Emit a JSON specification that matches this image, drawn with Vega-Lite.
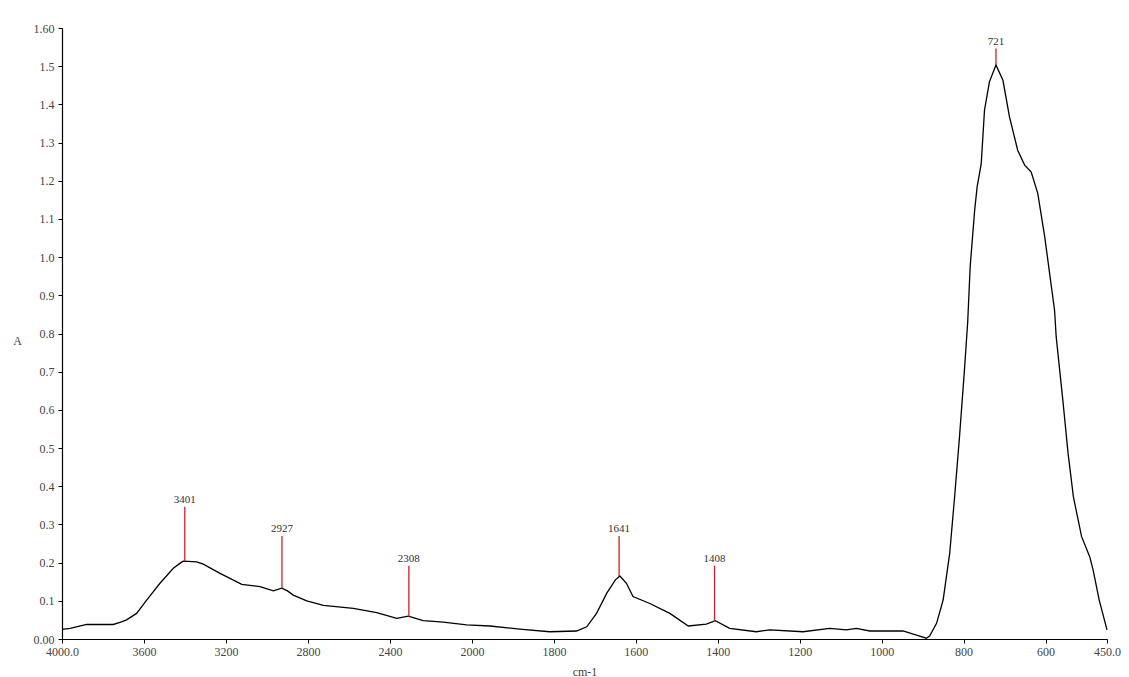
{
  "$schema": "https://vega.github.io/schema/vega-lite/v6.json",
  "description": "IR absorbance spectrum with marked peaks.",
  "width": 1045,
  "height": 611,
  "autosize": "none",
  "padding": {"left": 62, "top": 28, "right": 22, "bottom": 38},
  "background": "white",
  "config": {
    "view": {"stroke": null},
    "font": "Liberation Serif",
    "axis": {
      "grid": false,
      "domainColor": "#000000",
      "domainWidth": 1.2,
      "tickColor": "#000000",
      "tickSize": 4,
      "labelFont": "Liberation Serif",
      "labelFontSize": 12,
      "labelColor": "#444444",
      "titleFont": "Liberation Serif",
      "titleFontSize": 12,
      "titleFontWeight": "normal",
      "titleColor": "#444444"
    },
    "axisY": {
      "title": "A",
      "titleAngle": 0,
      "titleX": -45,
      "titleY": 312,
      "titleAlign": "center",
      "titleBaseline": "middle",
      "labelPadding": 4,
      "values": [0, 0.1, 0.2, 0.3, 0.4, 0.5, 0.6, 0.7, 0.8, 0.9, 1.0, 1.1, 1.2, 1.3, 1.4, 1.5, 1.6],
      "labelExpr": "datum.value < 0.001 ? '0.00' : datum.value > 1.59 ? '1.60' : format(datum.value, '.1f')",
      "labelFlush": false,
      "labelOverlap": false
    }
  },
  "datasets": {
    "spectrum": [
      {"wn": 4000, "A": 0.025}, {"wn": 3960, "A": 0.028}, {"wn": 3920, "A": 0.033},
      {"wn": 3880, "A": 0.038}, {"wn": 3750, "A": 0.038}, {"wn": 3710, "A": 0.045},
      {"wn": 3685, "A": 0.05}, {"wn": 3636, "A": 0.067}, {"wn": 3587, "A": 0.102},
      {"wn": 3522, "A": 0.146}, {"wn": 3457, "A": 0.185}, {"wn": 3420, "A": 0.2},
      {"wn": 3408, "A": 0.204}, {"wn": 3343, "A": 0.202}, {"wn": 3311, "A": 0.196},
      {"wn": 3229, "A": 0.172}, {"wn": 3123, "A": 0.143}, {"wn": 3034, "A": 0.137},
      {"wn": 2969, "A": 0.126}, {"wn": 2928, "A": 0.133}, {"wn": 2900, "A": 0.126},
      {"wn": 2872, "A": 0.115}, {"wn": 2806, "A": 0.1}, {"wn": 2725, "A": 0.088},
      {"wn": 2579, "A": 0.08}, {"wn": 2465, "A": 0.069}, {"wn": 2367, "A": 0.054},
      {"wn": 2311, "A": 0.06}, {"wn": 2238, "A": 0.048}, {"wn": 2140, "A": 0.044},
      {"wn": 2026, "A": 0.037}, {"wn": 1956, "A": 0.034}, {"wn": 1883, "A": 0.026},
      {"wn": 1810, "A": 0.019}, {"wn": 1745, "A": 0.021}, {"wn": 1720, "A": 0.032},
      {"wn": 1696, "A": 0.067}, {"wn": 1671, "A": 0.12}, {"wn": 1650, "A": 0.155},
      {"wn": 1639, "A": 0.165}, {"wn": 1623, "A": 0.146}, {"wn": 1607, "A": 0.111},
      {"wn": 1566, "A": 0.093}, {"wn": 1517, "A": 0.067}, {"wn": 1472, "A": 0.034},
      {"wn": 1428, "A": 0.039}, {"wn": 1406, "A": 0.048}, {"wn": 1371, "A": 0.028},
      {"wn": 1306, "A": 0.019}, {"wn": 1273, "A": 0.024}, {"wn": 1192, "A": 0.019},
      {"wn": 1127, "A": 0.028}, {"wn": 1086, "A": 0.024}, {"wn": 1062, "A": 0.028},
      {"wn": 1029, "A": 0.021}, {"wn": 948, "A": 0.021}, {"wn": 915, "A": 0.01},
      {"wn": 891, "A": 0.002}, {"wn": 883, "A": 0.008}, {"wn": 866, "A": 0.041},
      {"wn": 850, "A": 0.102}, {"wn": 834, "A": 0.224}, {"wn": 822, "A": 0.372},
      {"wn": 810, "A": 0.53}, {"wn": 798, "A": 0.704}, {"wn": 790, "A": 0.83},
      {"wn": 784, "A": 0.975}, {"wn": 773, "A": 1.123}, {"wn": 767, "A": 1.184},
      {"wn": 757, "A": 1.245}, {"wn": 749, "A": 1.385}, {"wn": 737, "A": 1.459},
      {"wn": 721, "A": 1.503}, {"wn": 704, "A": 1.463}, {"wn": 688, "A": 1.367},
      {"wn": 668, "A": 1.28}, {"wn": 651, "A": 1.241}, {"wn": 635, "A": 1.223},
      {"wn": 619, "A": 1.167}, {"wn": 602, "A": 1.053}, {"wn": 590, "A": 0.957},
      {"wn": 578, "A": 0.861}, {"wn": 574, "A": 0.791}, {"wn": 557, "A": 0.617},
      {"wn": 545, "A": 0.486}, {"wn": 532, "A": 0.372}, {"wn": 512, "A": 0.268},
      {"wn": 492, "A": 0.215}, {"wn": 484, "A": 0.181}, {"wn": 469, "A": 0.102},
      {"wn": 450, "A": 0.024}
    ],
    "peaks": [
      {"wn": 3401, "base": 0.203, "top": 0.346, "label": "3401"},
      {"wn": 2927, "base": 0.133, "top": 0.27, "label": "2927"},
      {"wn": 2308, "base": 0.058, "top": 0.192, "label": "2308"},
      {"wn": 1641, "base": 0.165, "top": 0.27, "label": "1641"},
      {"wn": 1408, "base": 0.048, "top": 0.192, "label": "1408"},
      {"wn": 721, "base": 1.503, "top": 1.546, "label": "721"}
    ]
  },
  "encoding": {
    "x": {
      "field": "wn",
      "type": "quantitative",
      "scale": {"type": "linear", "domain": [4000, 2000, 450], "range": [0, 410, 1045], "nice": false, "zero": false},
      "axis": {
        "title": "cm-1",
        "titleY": 32,
        "titleBaseline": "middle",
        "labelPadding": 3,
        "values": [4000, 3600, 3200, 2800, 2400, 2000, 1800, 1600, 1400, 1200, 1000, 800, 600, 450],
        "labelExpr": "datum.value == 4000 || datum.value == 450 ? format(datum.value, '.1f') : format(datum.value, 'd')",
        "labelFlush": false,
        "labelOverlap": false
      }
    }
  },
  "layer": [
    {
      "data": {"name": "spectrum"},
      "mark": {"type": "line", "color": "#000000", "strokeWidth": 1.3, "interpolate": "linear"},
      "encoding": {
        "y": {
          "field": "A",
          "type": "quantitative",
          "title": "A",
          "scale": {"domain": [0, 1.6], "nice": false, "zero": false}
        }
      }
    },
    {
      "data": {"name": "peaks"},
      "mark": {"type": "rule", "color": "#cc1f2e", "strokeWidth": 1.3},
      "encoding": {
        "y": {"field": "base", "type": "quantitative", "title": "A"},
        "y2": {"field": "top"}
      }
    },
    {
      "data": {"name": "peaks"},
      "mark": {"type": "text", "baseline": "bottom", "dy": -2, "fontSize": 11, "color": "#333333", "font": "Liberation Serif"},
      "encoding": {
        "y": {"field": "top", "type": "quantitative", "title": "A"},
        "text": {"field": "label"}
      }
    }
  ]
}
